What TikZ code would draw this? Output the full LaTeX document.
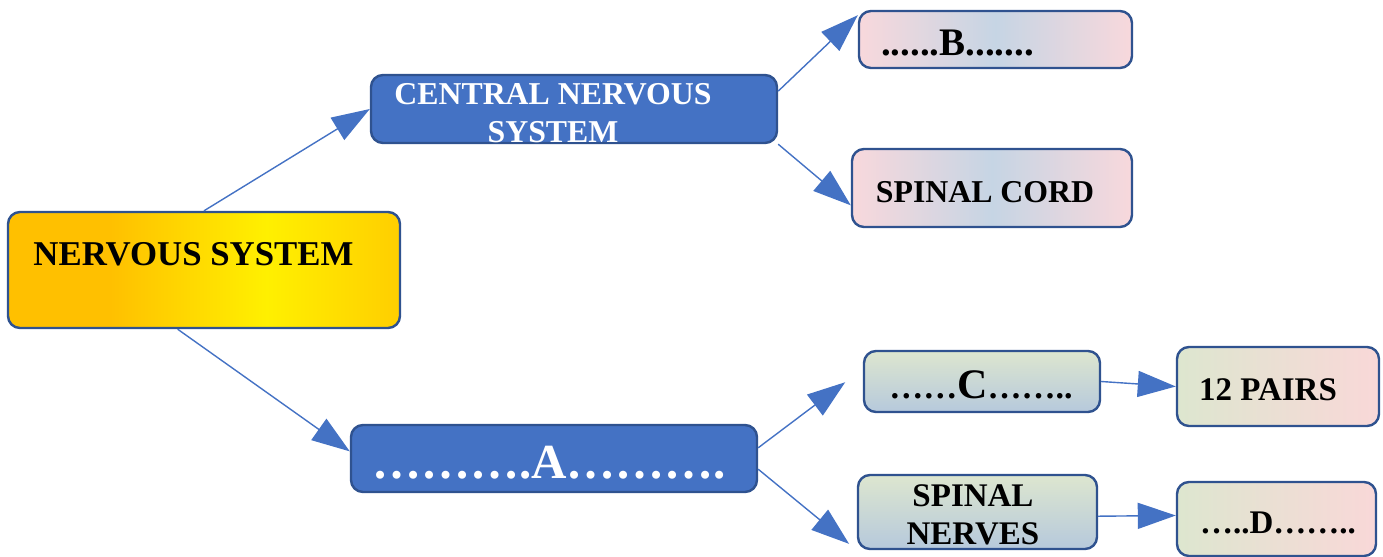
\documentclass[tikz,border=0pt]{standalone}
\usepackage{fontspec}
\setmainfont{Liberation Serif}
\usetikzlibrary{arrows.meta}
\definecolor{nsorange}{HTML}{FFC000}
\definecolor{nsyellow}{HTML}{FFF000}
\definecolor{boxblue}{HTML}{4472C4}
\definecolor{edge}{HTML}{2F528F}
\definecolor{pinkish}{HTML}{F8D8DC}
\definecolor{bluish}{HTML}{C6D5E4}
\definecolor{greenish}{HTML}{DDE6CF}
\definecolor{greyblue}{HTML}{B6C9DC}
\definecolor{rosy}{HTML}{F9D8D8}
\pgfdeclarehorizontalshading{nsfill}{100bp}{color(0bp)=(nsorange); color(25bp)=(nsorange); color(38bp)=(nsorange); color(58bp)=(nsyellow); color(75bp)=(nsorange!70!nsyellow); color(100bp)=(nsorange!70!nsyellow)}

\begin{document}
\begin{tikzpicture}[x=0.5pt,y=-0.5pt,
    main/.style = {draw=edge, line width=1.2pt, rounded corners=6pt, inner sep=0pt},
    blu/.style = {main, fill=boxblue},
    pnk/.style = {main, left color=pinkish, right color=pinkish, middle color=bluish},
    grn/.style = {main, top color=greenish, bottom color=greyblue},
    mix/.style = {main, left color=greenish, right color=rosy},
    lbl/.style = {anchor=base, inner sep=0pt, font=\bfseries\fontsize{16.5}{19}\selectfont},
    arr/.style = {draw=boxblue, line width=0.7pt, -{Triangle[length=19pt,width=13pt]}}]
    \useasboundingbox (0,0) rectangle (1383,557);

    \node[main, shade, shading=nsfill, minimum width=196pt, minimum height=58pt](1) at (204,270){};
    \node[blu, minimum width=203pt, minimum height=34pt](2) at (574,109){};
    \node[blu, minimum width=203pt, minimum height=33.5pt](3) at (554,458.5){};
    \node[pnk, minimum width=136.5pt, minimum height=28.5pt](4) at (995.5,39.5){};
    \node[pnk, minimum width=140pt, minimum height=39pt](5) at (992,188){};
    \node[grn, minimum width=118pt, minimum height=30.5pt](6) at (982,381.5){};
    \node[grn, minimum width=119.5pt, minimum height=37pt](7) at (977.5,512){};
    \node[mix, minimum width=101pt, minimum height=39.5pt](8) at (1278,386.5){};
    \node[mix, minimum width=99.5pt, minimum height=37pt](9) at (1276.5,519){};

    \node[lbl, font=\bfseries\fontsize{17.4}{20}\selectfont](1t) at (193.5,265){NERVOUS SYSTEM};
    \node[lbl, anchor=center, align=center, text=white, font=\bfseries\fontsize{15.9}{19}\selectfont](2t) at (553,113){CENTRAL NERVOUS\\SYSTEM};
    \node[lbl, text=white, font=\bfseries\fontsize{24.5}{28}\selectfont](3t) at (549,478){……….A……….};
    \node[lbl, font=\bfseries\fontsize{19.5}{22}\selectfont](4t) at (957.5,55){......B.......};
    \node[lbl, font=\bfseries\fontsize{15.9}{19}\selectfont](5t) at (985,202){SPINAL CORD};
    \node[lbl, font=\bfseries\fontsize{17}{19}\selectfont](6t) at (981,398){……{\fontsize{21}{23}\selectfont C}……..};
    \node[lbl, anchor=center, align=center](7t) at (973,515){SPINAL\\NERVES};
    \node[lbl](8t) at (1268,400){12 PAIRS};
    \node[lbl](9t) at (1278,533){…..D……..};

    \draw[arr] (1.north) -- (2.west);
    \draw[arr] (1.246) -- (3.178);
    \draw[arr] (2.5) -- (4.170);
    \draw[arr] (2.south east) -- (5.187);
    \draw[arr, shorten >=11pt] (3.3) -- (6.174);
    \draw[arr, shorten >=5pt] (3.-3) -- (7.south west);
    \draw[arr] (6.east) -- (8.west);
    \draw[arr] (7.358) -- (9.178);
\end{tikzpicture}
\end{document}
